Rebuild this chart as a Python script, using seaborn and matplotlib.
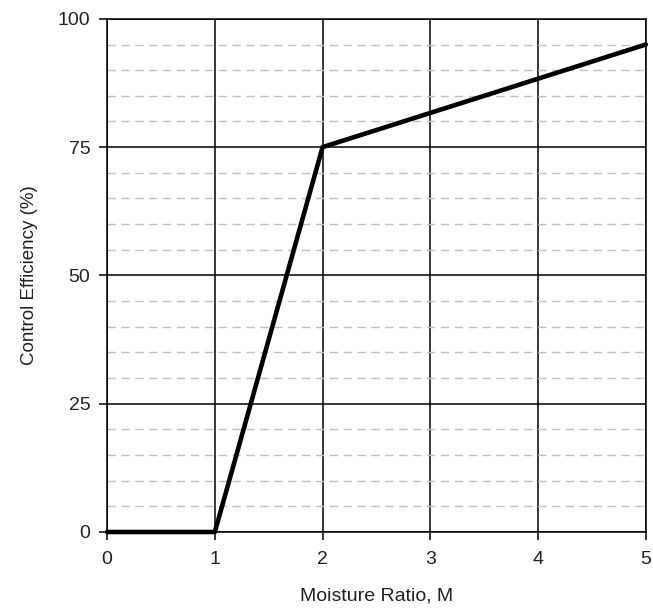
import matplotlib
matplotlib.use("Agg")
import matplotlib.pyplot as plt
import seaborn as sns
import pandas as pd
from matplotlib.ticker import MultipleLocator

moisture_ratio = [0, 1, 2, 5]
control_efficiency = [0, 0, 75, 95]
x_ticks = [0, 1, 2, 3, 4, 5]
y_ticks = [0, 25, 50, 75, 100]

sns.set_theme(style="white")
plt.rcParams['font.family'] = ['Liberation Sans', 'DejaVu Sans']

df = pd.DataFrame({"M": moisture_ratio, "CE": control_efficiency})

fig = plt.figure(figsize=(6.53, 6.08), dpi=100)
ax = fig.add_axes([0.164, 0.125, 0.825, 0.844])

ax.set_xlim(0, 5)
ax.set_ylim(0, 100)
ax.set_xticks(x_ticks)
ax.set_yticks(y_ticks)
ax.yaxis.set_minor_locator(MultipleLocator(5))

ax.grid(which="minor", axis="y", color="#c0c0c0", linestyle=(0, (6, 4)), linewidth=1.0)
ax.grid(which="major", axis="both", color="black", linewidth=1.1)
ax.set_axisbelow(True)

sns.lineplot(data=df, x="M", y="CE", ax=ax, color="black", linewidth=3.3, clip_on=False, zorder=5)

for s in ax.spines.values():
    s.set_color("black")
    s.set_linewidth(1.1)

ax.tick_params(axis="both", which="major", direction="out", length=6, width=1.1,
               color="black", labelsize=14, labelcolor="#222222", bottom=True, left=True)
ax.tick_params(axis="y", which="minor", length=0)
ax.tick_params(axis="y", pad=6)
ax.tick_params(axis="x", pad=8)

ax.set_xlabel("Moisture Ratio, M", fontsize=14, labelpad=14, color="#222222")
ax.set_ylabel("Control Efficiency (%)", fontsize=13.5, labelpad=14, color="#222222")

fig.savefig("out.png", dpi=100)
